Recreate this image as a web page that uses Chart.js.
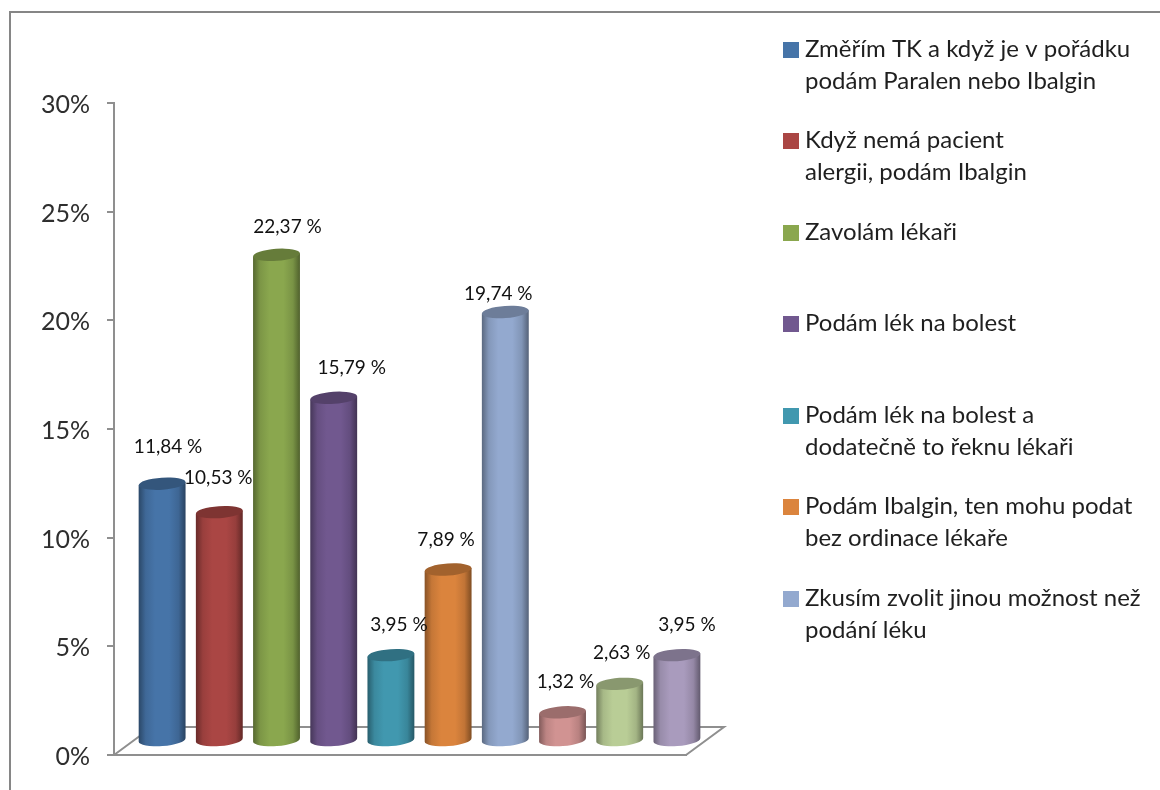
<!DOCTYPE html>
<html>
<head>
<meta charset="utf-8">
<script src="https://cdn.jsdelivr.net/npm/chart.js@4"></script>
<style>
  html, body { margin: 0; padding: 0; background: #fff; }
  canvas { display: block; }
</style>
</head>
<body>
<canvas id="chart" width="1160" height="790"></canvas>
<script>
var categories = ["A", "B", "C", "D", "E", "F", "G", "H", "I", "J"];
var values = [11.84, 10.53, 22.37, 15.79, 3.95, 7.89, 19.74, 1.32, 2.63, 3.95];
var barColors = ["#4674a8", "#aa4644", "#8aa74e", "#71588f", "#4198af", "#db843d", "#93a9cf", "#d19392", "#b9cd96", "#a99bbd"];
var legendTexts = [
  ["Změřím TK a když je v pořádku", "podám Paralen nebo Ibalgin"],
  ["Když nemá pacient", "alergii, podám Ibalgin"],
  ["Zavolám lékaři"],
  ["Podám lék na bolest"],
  ["Podám lék na bolest a", "dodatečně to řeknu lékaři"],
  ["Podám Ibalgin, ten mohu podat", "bez ordinace lékaře"],
  ["Zkusím zvolit jinou možnost než", "podání léku"]
];

// layout stuff, not data
var legendTop = [49, 140, 232, 323, 415, 506, 598];
var labelShift = [[6, -37], [-1, -34], [11, -28], [18, -30], [8, -30], [-2, -30], [-7, -18], [3, -30], [2, -31], [10, -30]];
var depthX = 19.5, depthY = 14;
var floorX = 38, floorY = 28;
var lineColor = "#8f8f8f";
var fontName = "Lato, 'Open Sans', sans-serif";

function shade(hex, f) {
  var n = parseInt(hex.slice(1), 16);
  var r = Math.round(((n >> 16) & 255) * f);
  var g = Math.round(((n >> 8) & 255) * f);
  var b = Math.round((n & 255) * f);
  return "rgb(" + r + "," + g + "," + b + ")";
}

function drawCylinder(ctx, bar, color) {
  var cx = bar.x + depthX;
  var top = bar.y - depthY;
  var bottom = bar.base - depthY;
  var rx = bar.width / 2;
  var ry = 6;
  var tilt = -0.07;
  var dy = rx * Math.sin(tilt);

  var grad = ctx.createLinearGradient(cx - rx, 0, cx + rx, 0);
  grad.addColorStop(0, shade(color, 0.62));
  grad.addColorStop(0.15, shade(color, 0.9));
  grad.addColorStop(0.35, color);
  grad.addColorStop(0.65, color);
  grad.addColorStop(0.85, shade(color, 0.88));
  grad.addColorStop(1, shade(color, 0.58));

  ctx.beginPath();
  ctx.moveTo(cx - rx, top - dy);
  ctx.lineTo(cx + rx, top + dy);
  ctx.lineTo(cx + rx, bottom + dy);
  ctx.ellipse(cx, bottom, rx, ry, tilt, 0, Math.PI);
  ctx.closePath();
  ctx.fillStyle = grad;
  ctx.fill();

  ctx.beginPath();
  ctx.ellipse(cx, top, rx, ry, tilt, 0, Math.PI * 2);
  ctx.fillStyle = shade(color, 0.74);
  ctx.fill();
}

var cylinderPlugin = {
  id: "cylinders",
  beforeDraw: function(chart) {
    var ctx = chart.ctx, a = chart.chartArea;
    ctx.save();
    // outer frame, only top and left are in the picture
    ctx.strokeStyle = "#868686";
    ctx.lineWidth = 2;
    ctx.beginPath();
    ctx.moveTo(10, 790);
    ctx.lineTo(10, 12);
    ctx.lineTo(1160, 12);
    ctx.stroke();
    // floor
    ctx.strokeStyle = lineColor;
    ctx.beginPath();
    ctx.moveTo(a.left, a.bottom);
    ctx.lineTo(a.left + floorX, a.bottom - floorY);
    ctx.lineTo(a.right + floorX, a.bottom - floorY);
    ctx.lineTo(a.right, a.bottom);
    ctx.stroke();
    ctx.restore();
  },
  beforeDatasetDraw: function(chart, args) {
    var ctx = chart.ctx;
    var bars = args.meta.data;
    ctx.save();
    for (var i = 0; i < bars.length; i++) {
      drawCylinder(ctx, bars[i], barColors[i]);
    }
    ctx.restore();
    return false;
  },
  afterDatasetsDraw: function(chart) {
    var ctx = chart.ctx;
    var bars = chart.getDatasetMeta(0).data;
    ctx.save();
    ctx.font = "19px " + fontName;
    ctx.fillStyle = "#111111";
    ctx.textAlign = "center";
    ctx.textBaseline = "middle";
    for (var i = 0; i < bars.length; i++) {
      var txt = values[i].toFixed(2).replace(".", ",") + " %";
      ctx.fillText(txt, bars[i].x + depthX + labelShift[i][0], bars[i].y - depthY + labelShift[i][1]);
    }
    // legend
    ctx.font = "24px " + fontName;
    ctx.textAlign = "left";
    for (var k = 0; k < legendTexts.length; k++) {
      ctx.fillStyle = barColors[k];
      ctx.fillRect(783, legendTop[k] - 7, 16, 16);
      ctx.fillStyle = "#1f1f1f";
      for (var n = 0; n < legendTexts[k].length; n++) {
        ctx.fillText(legendTexts[k][n], 805, legendTop[k] + n * 32);
      }
    }
    ctx.restore();
  }
};

new Chart(document.getElementById("chart"), {
  type: "bar",
  data: {
    labels: categories,
    datasets: [{
      data: values,
      backgroundColor: barColors,
      barPercentage: 0.82,
      categoryPercentage: 1
    }]
  },
  plugins: [cylinderPlugin],
  options: {
    responsive: false,
    animation: false,
    layout: { padding: { left: 0, right: 474, top: 103, bottom: 35 } },
    plugins: { legend: { display: false }, tooltip: { enabled: false } },
    scales: {
      x: {
        afterFit: function(s) { s.height = 0; },
        ticks: { display: false },
        grid: { display: false, drawTicks: false },
        border: { color: lineColor, width: 2 }
      },
      y: {
        min: 0,
        max: 30,
        afterFit: function(s) { s.width = 114; },
        ticks: {
          stepSize: 5,
          padding: 17,
          labelOffset: 2,
          color: "#2e2e2e",
          font: { family: fontName, size: 25 },
          callback: function(v) { return v + "%"; }
        },
        grid: { drawOnChartArea: false, tickLength: 7, color: lineColor, lineWidth: 2 },
        border: { color: lineColor, width: 2 }
      }
    }
  }
});
</script>
</body>
</html>
